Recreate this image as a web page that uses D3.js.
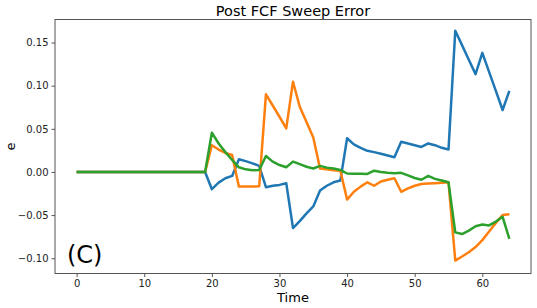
<!DOCTYPE html>
<html>
<head>
<meta charset="utf-8">
<script src="https://cdn.jsdelivr.net/npm/d3@7"></script>
<style>
  body { margin: 0; background: #fff; }
  svg { display: block; font-family: "DejaVu Sans", sans-serif; }
</style>
</head>
<body>
<svg id="chart" width="537" height="308"></svg>
<script>
// time steps 0..64
const time = d3.range(0, 65);

const flat = new Array(20).fill(0); // t = 0..19

const blueErr = flat.concat([
  -0.020, -0.0124, -0.0073, -0.0046, 0.0147, 0.0125, 0.010, 0.007, -0.0177, -0.016,
  -0.015, -0.013, -0.065, -0.057, -0.048, -0.040, -0.0216, -0.016, -0.012, -0.010,
  0.039, 0.032, 0.028, 0.0245, 0.023, 0.021, 0.019, 0.017, 0.035, 0.033,
  0.031, 0.029, 0.033, 0.031, 0.028, 0.026, 0.1636, 0.147, 0.130, 0.1134,
  0.138, 0.116, 0.094, 0.0718, 0.094
]);

const orangeErr = flat.concat([
  0.031, 0.026, 0.022, 0.0197, -0.017, -0.017, -0.017, -0.0165, 0.090, 0.077,
  0.064, 0.0505, 0.1045, 0.0756, 0.058, 0.040, 0.004, 0.003, 0.002, 0.0015,
  -0.032, -0.023, -0.017, -0.012, -0.016, -0.011, -0.009, -0.0073, -0.023, -0.019,
  -0.016, -0.014, -0.0135, -0.013, -0.0125, -0.012, -0.1027, -0.098, -0.093, -0.087,
  -0.079, -0.069, -0.059, -0.050, -0.049
]);

const greenErr = flat.concat([
  0.0455, 0.033, 0.023, 0.0139, 0.0054, 0.003, 0.002, 0.0023, 0.0185, 0.012,
  0.008, 0.0054, 0.012, 0.009, 0.006, 0.004, 0.007, 0.005, 0.004, 0.0023,
  -0.0018, -0.002, -0.0022, -0.0023, 0.0015, 0.0, -0.001, -0.0015, -0.001, -0.004,
  -0.007, -0.009, -0.0046, -0.008, -0.010, -0.012, -0.070, -0.072, -0.068, -0.063,
  -0.061, -0.062, -0.0575, -0.052, -0.0776
]);

const xTicks = [0, 10, 20, 30, 40, 50, 60];
const yTicks = [-0.10, -0.05, 0.00, 0.05, 0.10, 0.15];

const series = [
  { name: 'e1', values: blueErr, color: '#1f77b4' },
  { name: 'e2', values: orangeErr, color: '#ff7f0e' },
  { name: 'e3', values: greenErr, color: '#2ca02c' }
];

const svg = d3.select('#chart');
const plotLeft = 55, plotRight = 531, plotTop = 19.5, plotBottom = 273.5;

const x = d3.scaleLinear().domain([-3.2, 67.2]).range([plotLeft, plotRight]);
const y = d3.scaleLinear().domain([-0.1177, 0.1767]).range([plotBottom, plotTop]);

const line = d3.line()
  .x((d, i) => x(time[i]))
  .y(d => y(d));

const plot = svg.append('g');
series.forEach(s => {
  plot.append('path')
    .attr('d', line(s.values))
    .attr('fill', 'none')
    .attr('stroke', s.color)
    .attr('stroke-width', 2.5)
    .attr('stroke-linejoin', 'round');
});

// frame
svg.append('rect')
  .attr('x', plotLeft).attr('y', plotTop)
  .attr('width', plotRight - plotLeft).attr('height', plotBottom - plotTop)
  .attr('fill', 'none')
  .attr('stroke', '#555')
  .attr('stroke-width', 1);

const xAxis = svg.append('g')
  .attr('transform', `translate(0,${plotBottom})`)
  .call(d3.axisBottom(x).tickValues(xTicks).tickSize(3.5).tickPadding(3));

const yAxis = svg.append('g')
  .attr('transform', `translate(${plotLeft},0)`)
  .call(d3.axisLeft(y).tickValues(yTicks).tickFormat(d3.format('.2f')).tickSize(3.5).tickPadding(3));

[xAxis, yAxis].forEach(a => {
  a.select('.domain').remove();
  a.selectAll('.tick line').attr('stroke', '#555');
  a.selectAll('.tick text')
    .attr('fill', '#222')
    .style('font-size', '10px')
    .style('font-family', '"DejaVu Sans", sans-serif');
});

svg.append('text')
  .attr('x', (plotLeft + plotRight) / 2)
  .attr('y', 15.5)
  .attr('text-anchor', 'middle')
  .style('font-size', '14.5px')
  .attr('fill', '#000')
  .text('Post FCF Sweep Error');

svg.append('text')
  .attr('x', (plotLeft + plotRight) / 2)
  .attr('y', 302)
  .attr('text-anchor', 'middle')
  .style('font-size', '13px')
  .attr('fill', '#000')
  .text('Time');

svg.append('text')
  .attr('transform', `translate(15,${(plotTop + plotBottom) / 2}) rotate(-90)`)
  .attr('text-anchor', 'middle')
  .style('font-size', '13px')
  .attr('fill', '#000')
  .text('e');

svg.append('text')
  .attr('x', 67)
  .attr('y', 263)
  .style('font-size', '24px')
  .attr('fill', '#000')
  .text('(C)');
</script>
</body>
</html>
